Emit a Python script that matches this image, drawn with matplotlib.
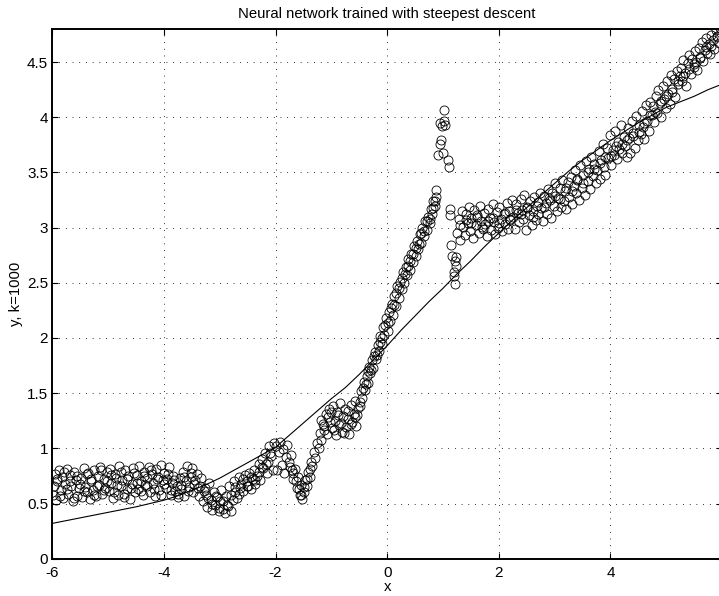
import matplotlib
matplotlib.use("Agg")
import matplotlib.pyplot as plt

plt.rcParams["font.family"] = ["Liberation Sans", "DejaVu Sans"]

# noisy training samples
x_obs = [
    -5.99, -5.96, -5.94, -5.91, -5.88, -5.85, -5.83, -5.80, -5.77, -5.74, -5.72, -5.69, -5.66, -5.63, -5.61, -5.58, -5.55, -5.52,
    -5.49, -5.47, -5.44, -5.41, -5.38, -5.36, -5.33, -5.30, -5.27, -5.25, -5.22, -5.19, -5.16, -5.14, -5.11, -5.08, -5.05, -5.02,
    -4.99, -4.97, -4.94, -4.91, -4.88, -4.86, -4.83, -4.80, -4.77, -4.75, -4.72, -4.69, -4.66, -4.64, -4.61, -4.58, -4.55, -4.52,
    -4.49, -4.47, -4.44, -4.41, -4.38, -4.36, -4.33, -4.30, -4.27, -4.25, -4.22, -4.19, -4.16, -4.14, -4.11, -4.08, -4.05, -4.02,
    -3.99, -3.97, -3.94, -3.91, -3.88, -3.86, -3.83, -3.80, -3.77, -3.75, -3.72, -3.69, -3.66, -3.64, -3.61, -3.58, -3.55, -3.52,
    -3.49, -3.47, -3.44, -3.41, -3.38, -3.36, -3.33, -3.30, -3.27, -3.25, -3.22, -3.19, -3.16, -3.14, -3.11, -3.08, -3.05, -3.02,
    -2.99, -2.97, -2.94, -2.91, -2.88, -2.86, -2.83, -2.80, -2.77, -2.75, -2.72, -2.69, -2.66, -2.64, -2.61, -2.58, -2.55, -2.52,
    -2.49, -2.47, -2.44, -2.41, -2.38, -2.36, -2.33, -2.30, -2.27, -2.25, -2.22, -2.19, -2.16, -2.14, -2.11, -2.08, -2.05, -2.02,
    -1.99, -1.97, -1.94, -1.92, -1.89, -1.87, -1.84, -1.81, -1.79, -1.76, -1.73, -1.70, -1.68, -1.65, -1.62, -1.60, -1.57, -1.55, -1.52,
    -1.49, -1.47, -1.44, -1.42, -1.39, -1.37, -1.34, -1.31, -1.29, -1.26, -1.23, -1.21, -1.18, -1.15, -1.13, -1.10, -1.07, -1.05, -1.02,
    -0.99, -0.97, -0.94, -0.92, -0.89, -0.87, -0.84, -0.81, -0.79, -0.76, -0.73, -0.71, -0.68, -0.65, -0.63, -0.60, -0.57, -0.55, -0.52,
    -0.49, -0.47, -0.45, -0.42, -0.40, -0.37, -0.35, -0.32, -0.30, -0.27, -0.25, -0.22, -0.20, -0.17, -0.15, -0.12, -0.10, -0.07, -0.05, -0.02,
    0.01, 0.03, 0.06, 0.08, 0.11, 0.13, 0.16, 0.18, 0.21, 0.23, 0.26, 0.28, 0.31, 0.33, 0.36, 0.38, 0.41, 0.43, 0.46, 0.48,
    0.51, 0.53, 0.56, 0.58, 0.61, 0.63, 0.66, 0.68, 0.71, 0.73, 0.76, 0.78, 0.81, 0.83, 0.85, 0.87, 0.88,
    0.92, 0.94, 0.95, 0.97, 0.98, 1.00, 1.01, 1.02, 1.04, 1.09, 1.10,
    1.12, 1.13,
    1.15, 1.17, 1.19, 1.20, 1.21, 1.22, 1.23, 1.24,
    1.26, 1.29, 1.31, 1.34, 1.36, 1.39, 1.41, 1.44, 1.46, 1.49, 1.51, 1.54, 1.56, 1.59, 1.61, 1.64, 1.66, 1.69, 1.71, 1.74,
    1.76, 1.79, 1.81, 1.84, 1.86, 1.89, 1.91, 1.94, 1.96, 1.99, 2.01, 2.04, 2.06, 2.09, 2.11, 2.14, 2.16, 2.19, 2.21, 2.24,
    2.26, 2.29, 2.31, 2.34, 2.36, 2.39, 2.41, 2.44, 2.46, 2.49, 2.51, 2.54, 2.56, 2.59, 2.61, 2.64, 2.66, 2.69, 2.71, 2.74,
    2.76, 2.79, 2.81, 2.84, 2.86, 2.89, 2.91, 2.94, 2.96, 2.99, 3.01, 3.04, 3.06, 3.09, 3.11, 3.14, 3.16, 3.19, 3.21, 3.24,
    3.26, 3.29, 3.31, 3.34, 3.36, 3.39, 3.41, 3.44, 3.46, 3.49, 3.51, 3.54, 3.56, 3.59, 3.61, 3.64, 3.66, 3.69, 3.71, 3.74,
    3.76, 3.79, 3.81, 3.84, 3.86, 3.89, 3.91, 3.94, 3.96, 3.99, 4.01, 4.04, 4.06, 4.09, 4.11, 4.14, 4.16, 4.19, 4.21, 4.24,
    4.26, 4.29, 4.31, 4.34, 4.36, 4.39, 4.41, 4.44, 4.46, 4.49, 4.51, 4.54, 4.56, 4.59, 4.61, 4.64, 4.66, 4.69, 4.71, 4.74,
    4.76, 4.79, 4.81, 4.84, 4.86, 4.89, 4.91, 4.94, 4.96, 4.99, 5.01, 5.04, 5.06, 5.09, 5.11, 5.14, 5.16, 5.19, 5.21, 5.24,
    5.26, 5.29, 5.31, 5.34, 5.36, 5.39, 5.41, 5.44, 5.46, 5.49, 5.51, 5.54, 5.56, 5.59, 5.61, 5.64, 5.66, 5.69, 5.71, 5.74,
    5.76, 5.79, 5.81, 5.84, 5.86, 5.89, 5.91, 5.94, 5.96, 5.99,
    # second pass, filling the denser parts
    -5.975, -5.915, -5.855, -5.795, -5.735, -5.675, -5.615, -5.555, -5.495, -5.435, -5.375, -5.315, -5.255, -5.195, -5.135,
    -5.075, -5.015, -4.955, -4.895, -4.835, -4.775, -4.715, -4.655, -4.595, -4.535, -4.475, -4.415, -4.355, -4.295, -4.235,
    -4.175, -4.115, -4.055, -3.995, -3.935, -3.875, -3.815, -3.755, -3.695, -3.635, -3.575, -3.515, -3.455, -3.395,
    -3.285, -3.215, -3.145, -3.075, -3.005, -2.935, -2.865, -2.795, -2.725, -2.655, -2.585, -2.515, -2.445, -2.375, -2.305,
    -2.235, -2.165, -2.095,
    -1.745, -1.685, -1.635, -1.585, -1.535, -1.485, -1.435, -1.385,
    -1.185, -1.125, -1.065, -1.005, -0.945, -0.885, -0.825, -0.765, -0.705, -0.645, -0.585, -0.535,
    -0.485, -0.435, -0.385, -0.335, -0.285, -0.235, -0.185, -0.135, -0.085, -0.035, 0.015, 0.065, 0.115, 0.165,
    0.215, 0.265, 0.315, 0.365, 0.415, 0.465, 0.515, 0.565, 0.615, 0.665, 0.715, 0.765, 0.815, 0.865,
    1.305, 1.405, 1.505, 1.605, 1.705, 1.805, 1.905, 2.005, 2.105, 2.205, 2.305, 2.405, 2.505, 2.605, 2.705, 2.805,
    2.905, 3.005, 3.105, 3.205, 3.305, 3.405, 3.505, 3.605, 3.705, 3.805, 3.905, 4.005, 4.105, 4.205, 4.305, 4.405,
    4.505, 4.605, 4.705, 4.805, 4.905, 5.005, 5.105, 5.205, 5.305, 5.405, 5.505, 5.605, 5.705, 5.805, 5.905,
]
y_obs = [
    0.58, 0.77, 0.53, 0.70, 0.80, 0.62, 0.74, 0.55, 0.68, 0.81, 0.59, 0.76, 0.66, 0.52, 0.79, 0.71, 0.57, 0.64,
    0.73, 0.56, 0.82, 0.65, 0.60, 0.78, 0.54, 0.70, 0.62, 0.80, 0.57, 0.75, 0.67, 0.83, 0.59, 0.72, 0.64, 0.79,
    0.61, 0.81, 0.69, 0.55, 0.77, 0.73, 0.58, 0.84, 0.66, 0.71, 0.56, 0.80, 0.63, 0.75, 0.54, 0.68, 0.82, 0.60,
    0.76, 0.63, 0.84, 0.70, 0.58, 0.79, 0.67, 0.73, 0.83, 0.60, 0.77, 0.69, 0.57, 0.81, 0.74, 0.62, 0.85, 0.71,
    0.78, 0.64, 0.72, 0.83, 0.58, 0.69, 0.75, 0.61, 0.66, 0.56, 0.73, 0.63, 0.79, 0.57, 0.70, 0.84, 0.65, 0.74,
    0.82, 0.60, 0.71, 0.77, 0.57, 0.66, 0.73, 0.52, 0.64, 0.58, 0.47, 0.69, 0.53, 0.44, 0.60, 0.49, 0.56, 0.43,
    0.52, 0.62, 0.45, 0.41, 0.57, 0.48, 0.66, 0.43, 0.53, 0.70, 0.60, 0.55, 0.74, 0.64, 0.68, 0.61, 0.76, 0.70,
    0.66, 0.78, 0.63, 0.72, 0.80, 0.68, 0.75, 0.86, 0.71, 0.90, 0.82, 0.96, 0.78, 0.88, 1.02, 0.93, 0.80, 1.05,
    1.02, 0.80, 0.97, 1.06, 0.85, 0.99, 0.78, 0.92, 1.03, 0.88, 0.94, 0.80, 0.72, 0.81, 0.64, 0.74, 0.58, 0.67, 0.54,
    0.60, 0.71, 0.66, 0.79, 0.74, 0.88, 0.84, 0.97, 0.91, 1.05, 1.00, 1.14, 1.08, 1.22, 1.17, 1.31, 1.13, 1.36, 1.24,
    1.18, 1.38, 1.25, 1.12, 1.33, 1.21, 1.41, 1.15, 1.29, 1.36, 1.19, 1.27, 1.13, 1.39, 1.24, 1.31, 1.43, 1.20, 1.37,
    1.38, 1.52, 1.46, 1.60, 1.53, 1.66, 1.59, 1.74, 1.68, 1.80, 1.73, 1.87, 1.81, 1.94, 1.88, 2.02, 1.95, 2.10, 2.03, 2.18,
    2.06, 2.24, 2.15, 2.31, 2.21, 2.38, 2.29, 2.47, 2.36, 2.51, 2.44, 2.60, 2.50, 2.64, 2.57, 2.72, 2.62, 2.76, 2.69, 2.83,
    2.74, 2.88, 2.81, 2.94, 2.86, 3.00, 2.92, 3.06, 2.98, 3.10, 3.04, 3.17, 3.12, 3.24, 3.20, 3.34, 3.28,
    3.66, 3.76, 3.95, 3.79, 3.92, 3.68, 3.97, 4.07, 3.93, 3.61, 3.55,
    3.17, 3.11,
    2.84, 2.74, 2.60, 2.56, 2.70, 2.49, 2.65, 2.73,
    2.95, 3.08, 2.89, 3.15, 3.01, 2.93, 3.12, 3.04, 3.19, 2.97, 3.09, 2.91, 3.16, 3.02, 3.10, 2.95, 3.20, 3.06, 2.99, 3.13,
    3.03, 2.92, 3.17, 3.09, 2.98, 3.21, 3.05, 2.94, 3.14, 3.00, 3.19, 3.08, 2.97, 3.12, 3.03, 3.22, 2.99, 3.15, 3.07, 3.25,
    3.10, 2.99, 3.21, 3.13, 3.05, 3.26, 3.16, 3.08, 3.30, 2.98, 3.19, 3.11, 3.24, 3.02, 3.15, 3.28, 3.07, 3.20, 3.12, 3.31,
    3.18, 3.06, 3.29, 3.22, 3.12, 3.35, 3.25, 3.09, 3.31, 3.20, 3.40, 3.15, 3.27, 3.36, 3.19, 3.43, 3.24, 3.33, 3.17, 3.41,
    3.28, 3.46, 3.21, 3.38, 3.52, 3.31, 3.43, 3.25, 3.57, 3.36, 3.48, 3.30, 3.60, 3.42, 3.53, 3.35, 3.64, 3.47, 3.58, 3.40,
    3.52, 3.69, 3.44, 3.61, 3.76, 3.55, 3.48, 3.72, 3.63, 3.84, 3.57, 3.70, 3.66, 3.88, 3.62, 3.78, 3.71, 3.93, 3.68, 3.82,
    3.74, 3.64, 3.90, 3.81, 3.68, 3.97, 3.86, 3.72, 4.01, 3.79, 3.93, 3.85, 4.06, 3.91, 3.80, 4.11, 3.97, 3.88, 4.14, 4.02,
    4.10, 3.96, 4.19, 4.04, 4.25, 4.13, 4.00, 4.28, 4.17, 4.08, 4.33, 4.21, 4.12, 4.38, 4.26, 4.35, 4.18, 4.42, 4.30, 4.37,
    4.45, 4.33, 4.52, 4.40, 4.28, 4.49, 4.56, 4.39, 4.53, 4.46, 4.60, 4.50, 4.43, 4.63, 4.55, 4.68, 4.51, 4.61, 4.72, 4.58,
    4.66, 4.57, 4.75, 4.70, 4.62, 4.79, 4.74, 4.67, 4.81, 4.76,
    # second pass
    0.66, 0.72, 0.57, 0.79, 0.63, 0.70, 0.55, 0.75, 0.68, 0.61, 0.77, 0.72, 0.58, 0.66, 0.80,
    0.62, 0.70, 0.76, 0.60, 0.67, 0.79, 0.59, 0.72, 0.64, 0.78, 0.69, 0.61, 0.75, 0.66, 0.80,
    0.63, 0.72, 0.58, 0.68, 0.77, 0.62, 0.71, 0.59, 0.67, 0.74, 0.61, 0.78, 0.68, 0.64,
    0.61, 0.55, 0.50, 0.57, 0.46, 0.52, 0.49, 0.58, 0.65, 0.59, 0.72, 0.66, 0.74, 0.71, 0.79,
    0.83, 0.86, 0.96,
    0.83, 0.78, 0.70, 0.63, 0.58, 0.65, 0.72, 0.81,
    1.26, 1.20, 1.28, 1.33, 1.17, 1.30, 1.23, 1.14, 1.34, 1.22, 1.28, 1.30,
    1.42, 1.55, 1.58, 1.70, 1.71, 1.84, 1.85, 1.96, 2.00, 2.12, 2.14, 2.27, 2.30, 2.41,
    2.45, 2.54, 2.58, 2.65, 2.70, 2.76, 2.82, 2.85, 2.95, 2.97, 3.06, 3.08, 3.18, 3.24,
    3.02, 3.07, 3.04, 3.11, 3.01, 3.06, 3.09, 3.04, 3.13, 3.08, 3.16, 3.12, 3.18, 3.10, 3.23, 3.19,
    3.27, 3.29, 3.26, 3.36, 3.33, 3.44, 3.40, 3.50, 3.53, 3.59, 3.64, 3.65, 3.74, 3.76, 3.79, 3.83,
    3.87, 3.95, 4.02, 4.05, 4.15, 4.19, 4.23, 4.33, 4.37, 4.44, 4.48, 4.54, 4.64, 4.65, 4.73,
]

# network output after k=1000 steps
x_fit = [-6, -5.75, -5.5, -5.25, -5, -4.75, -4.5, -4.25, -4, -3.75, -3.5, -3.25, -3,
         -2.75, -2.5, -2.25, -2, -1.75, -1.5, -1.25, -1, -0.75, -0.5, -0.25, 0,
         0.25, 0.5, 0.75, 1, 1.25, 1.5, 1.75, 2, 2.25, 2.5, 2.75, 3,
         3.25, 3.5, 3.75, 4, 4.25, 4.5, 4.75, 5, 5.25, 5.5, 5.75, 6]
y_fit = [0.32, 0.345, 0.37, 0.395, 0.42, 0.445, 0.47, 0.50, 0.53, 0.57, 0.62, 0.67, 0.73,
         0.80, 0.87, 0.94, 1.01, 1.12, 1.23, 1.34, 1.45, 1.55, 1.67, 1.80, 1.93,
         2.07, 2.20, 2.33, 2.45, 2.58, 2.70, 2.83, 2.95, 3.07, 3.18, 3.29, 3.40,
         3.51, 3.61, 3.70, 3.79, 3.87, 3.95, 4.02, 4.09, 4.14, 4.19, 4.25, 4.30]

x_ticks = [-6, -4, -2, 0, 2, 4, 6]
y_ticks = [0, 0.5, 1, 1.5, 2, 2.5, 3, 3.5, 4, 4.5]
y_tick_labels = ["0", "0.5", "1", "1.5", "2", "2.5", "3", "3.5", "4", "4.5"]

fig = plt.figure(figsize=(7.19, 5.96), dpi=100)
ax = fig.add_axes([52.3 / 719, 37.3 / 596, 669.7 / 719, 529.7 / 596])

ax.plot(x_obs, y_obs, "o", markerfacecolor="none", markeredgecolor="black",
        markersize=6.5, markeredgewidth=0.6)
ax.plot(x_fit, y_fit, "-", color="black", linewidth=0.8)

ax.set_xlim(-6, 6)
ax.set_ylim(0, 4.8)
ax.set_xticks(x_ticks)
ax.set_xticklabels([str(t) for t in x_ticks])
ax.set_yticks(y_ticks)
ax.set_yticklabels(y_tick_labels)

# matlab-ish look: dotted grid, inward ticks on all sides
ax.grid(True, color="black", linestyle=(0, (0.8, 6.1)), linewidth=0.7)
ax.tick_params(direction="in", length=4.5, width=0.8, top=True, right=True,
               labelsize=11)
ax.tick_params(axis="x", pad=5)
ax.tick_params(axis="y", pad=3)
for spine in ax.spines.values():
    spine.set_linewidth(1.4)

ax.set_title("Neural network trained with steepest descent", fontsize=10.7, pad=8)
ax.set_xlabel("x", fontsize=10.7, labelpad=0.5)
ax.set_ylabel("y, k=1000", fontsize=10.7, labelpad=3)

fig.savefig("out.png", dpi=100)
